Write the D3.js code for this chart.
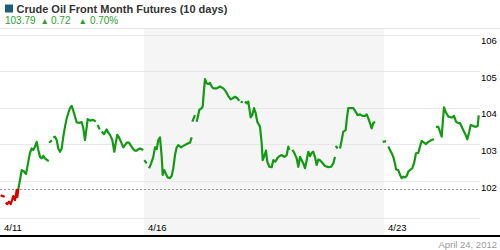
<!DOCTYPE html>
<html>
<head>
<meta charset="utf-8">
<script src="https://cdn.jsdelivr.net/npm/d3@7"></script>
<style>
  body { margin: 0; background: #fff; }
  text { font-family: "Liberation Sans", Arial, sans-serif; }
</style>
</head>
<body>
<div id="chart"></div>
<script>
// header values
var title = "Crude Oil Front Month Futures (10 days)";
var lastPrice = "103.79", change = "0.72", changePct = "0.70%";
var asOf = "April 24, 2012";

// price axis
var yTicks = [101, 102, 103, 104, 105, 106];
var yLabels = [102, 103, 104, 105, 106];
var refPrice = 101.78;

// time axis, hours over 10 trading days (24 h per day)
var dayLabels = ["4/11", "4/16", "4/23"];
var dayHours = [0, 72, 192];
var shadeWeek = [72, 192];

// intraday prices [hour, price], null = session break
var prices = [
  [0.35,101.61],[2.35,101.57], null,
  [2.85,101.41],[3.65,101.37],[4.5,101.44],[5.35,101.37],[6.15,101.50],[6.65,101.59],[7.5,101.48],[8.35,101.76],[8.65,101.56],[9.15,101.78],[10,102.03],[10.85,102.30],[12,102.26],[13,102.19],[14.15,102.53],[15,102.77],[15.85,102.89],[16.65,102.85],[17.5,102.94],[18.35,103.07],[19.15,102.85],[20,102.66],[20.85,102.62],[21.65,102.69],[22.5,102.62],[23.65,102.57],[24.4,102.55], null,
  [24.5,103.05],[26,103.11], null,
  [26.65,103.19],[27.5,103.21],[28.35,103.12],[29.15,102.89],[30,102.80],[30.85,102.89],[31.65,103.21],[32.5,103.48],[33.35,103.71],[34.15,103.85],[35,103.99],[35.85,104.05],[36.65,103.92],[37.5,103.76],[38.35,103.60],[40,103.59],[40.85,103.61],[41.65,103.44],[42.5,103.12],[43.35,103.48],[43.85,103.69],[45,103.65],[46.65,103.67],[47.85,103.62], null,
  [48.85,103.53],[49.85,103.41], null,
  [50.85,103.35],[52,103.28],[53.35,103.41],[54.15,103.32],[55,103.26],[56.15,103.12],[57.15,102.80],[57.85,103.03],[58.65,103.26],[59.5,103.19],[60.5,103.07],[61.65,102.92],[62.5,102.98],[63.35,103.05],[64.5,103.05],[65.5,102.96],[66.65,102.87],[67.5,102.83],[68.35,102.83],[69.15,102.87],[70,102.89],[70.85,102.87],[71.65,102.85], null,
  [72.15,102.57],[73.35,102.48], null,
  [74.5,102.35],[75.5,102.47],[76.65,102.66],[77.5,102.92],[78.35,102.87],[79.15,103.12],[80,103.19],[80.85,102.66],[81.35,102.17],[82.15,102.30],[82.85,102.21],[83.85,102.10],[85,102.08],[85.85,102.14],[86.65,102.35],[87.5,102.71],[88.35,102.92],[89.15,102.98],[90.5,102.92],[91.65,102.96],[93.35,103.01],[95,103.05],[95.85,103.19], null,
  [96.15,103.62],[97.5,103.80], null,
  [98.35,103.62],[99.65,103.94],[100.85,103.99],[101.35,104.03],[102,104.49],[102.5,104.78],[103.35,104.67],[104.15,104.65],[105,104.68],[105.85,104.58],[106.65,104.53],[108.35,104.53],[110,104.58],[111.65,104.53],[113,104.44],[114.15,104.32],[115.35,104.23],[116.35,104.26],[117.5,104.30],[118.65,104.26],[119.65,104.19], null,
  [120.35,104.17],[121.35,104.14], null,
  [122.5,104.17],[123.35,104.12],[124.15,104.17],[125.35,103.74],[126.15,103.80],[127,103.99],[127.85,103.85],[128.65,103.62],[130,103.48],[130.85,103.03],[131.35,102.57],[132,102.66],[133,102.83],[133.65,102.53],[134.65,102.39],[135.85,102.38],[136.65,102.57],[137.65,102.53],[138.65,102.62],[139.65,102.68],[140.85,102.71],[142.15,102.66],[143.35,102.71],[144.15,102.94],[144.65,102.85], null,
  [146.15,102.85],[147.15,102.77],[148.35,102.62],[149.15,102.39],[150,102.66],[150.85,102.57],[151.65,102.48],[152.5,102.35],[153.35,102.57],[154.15,102.80],[155,102.68],[155.85,102.77],[156.65,102.80],[157.5,102.65],[158.35,102.44],[159.15,102.59],[160,102.57],[161.15,102.50],[162.5,102.41],[164.15,102.38],[165.5,102.39],[166.65,102.48],[167.5,102.66], null,
  [167.85,102.96],[168.85,102.89], null,
  [170,102.89],[170.85,103.12],[171.65,103.35],[172.85,103.39],[173.35,103.67],[174.15,103.99],[175.5,103.99],[176.65,103.99],[177.85,103.89],[178.85,103.80],[180,103.82],[181.15,103.78],[182.5,103.78],[183.35,103.82],[184.15,103.71],[185,103.58],[185.85,103.44],[186.65,103.58],[187.5,103.62], null,
  [191.35,103.07],[193,103.09], null,
  [194.15,102.94],[195,102.85],[195.85,102.76],[196.65,102.66],[197.5,102.48],[198,102.32],[199.15,102.30],[200,102.17],[200.85,102.08],[201.65,102.12],[202.5,102.10],[203.35,102.14],[204.15,102.26],[205,102.30],[206.15,102.35],[207,102.48],[208,102.76],[209.15,102.77],[210,102.94],[210.85,103.10],[212,103.05],[213,103.01],[214.15,103.07],[215.85,103.12],[217,103.14], null,
  [218,103.48],[219.15,103.48],[220,103.35],[220.85,103.21],[221.35,103.58],[222,104.01],[223,103.87],[224.15,103.76],[225.35,103.74],[226.35,103.74],[227,103.78],[228,103.62],[229.15,103.58],[230,103.58],[230.85,103.48],[231.65,103.39],[232.5,103.30],[233.65,103.14],[234.65,103.35],[235.35,103.53],[236.65,103.50],[238,103.48],[238.85,103.50],[239.35,103.79]
];

var width = 500, height = 250,
    plotTop = 28.5, plotBottom = 236, plotRight = 480;

var green = "#139a13", red = "#d40000";

var svg = d3.select("#chart")
  .append("svg")
    .attr("width", width)
    .attr("height", height);

var x = d3.scaleLinear().domain([0, 240]).range([0, plotRight]);
var y = d3.scaleLinear().domain([101, 106]).range([217.7, 34.5]);

// header
svg.append("rect")
  .attr("x", 5).attr("y", 4.5).attr("width", 8).attr("height", 8)
  .attr("fill", "#1d5e7a");
svg.append("text")
  .attr("x", 16.5).attr("y", 12.7)
  .attr("font-size", 11).attr("font-weight", "bold").attr("fill", "#333")
  .text(title);

var quote = svg.append("text")
  .attr("x", 5).attr("y", 24.3)
  .attr("font-size", 10).attr("fill", "#2a9f2a");
quote.append("tspan").text(lastPrice);
quote.append("tspan").attr("dx", 5).attr("font-size", 8.5).text("\u25B2");
quote.append("tspan").attr("dx", 2).text(change);
quote.append("tspan").attr("dx", 8).attr("font-size", 8.5).text("\u25B2");
quote.append("tspan").attr("dx", 3).text(changePct);

// plot background
svg.append("rect")
  .attr("x", x(shadeWeek[0])).attr("y", plotTop)
  .attr("width", x(shadeWeek[1]) - x(shadeWeek[0]))
  .attr("height", plotBottom - plotTop)
  .attr("fill", "#f5f5f5");

svg.append("line")
  .attr("x1", 0).attr("x2", width)
  .attr("y1", plotTop).attr("y2", plotTop)
  .attr("stroke", "#e4e4e4");

svg.selectAll(".grid")
  .data(yTicks)
  .enter().append("line")
    .attr("class", "grid")
    .attr("x1", 0).attr("x2", plotRight)
    .attr("y1", function(d) { return Math.round(y(d)) + 0.5; })
    .attr("y2", function(d) { return Math.round(y(d)) + 0.5; })
    .attr("stroke", "#e8e8e8");

svg.selectAll(".ylab")
  .data(yLabels)
  .enter().append("text")
    .attr("class", "ylab")
    .attr("x", plotRight + 1)
    .attr("y", function(d) { return y(d) + 9.5; })
    .attr("font-size", 9.5).attr("fill", "#000")
    .text(function(d) { return d; });

svg.append("line")
  .attr("x1", 0).attr("x2", plotRight)
  .attr("y1", Math.round(y(refPrice)) + 0.5).attr("y2", Math.round(y(refPrice)) + 0.5)
  .attr("stroke", "#999").attr("stroke-dasharray", "2,2");

svg.selectAll(".xlab")
  .data(dayHours)
  .enter().append("text")
    .attr("class", "xlab")
    .attr("x", function(d) { return x(d) + 4; })
    .attr("y", 230.8)
    .attr("font-size", 9.5).attr("fill", "#000")
    .text(function(d, i) { return dayLabels[i]; });

// price line, green above the reference, red below
var defs = svg.append("defs");
defs.append("clipPath").attr("id", "above")
  .append("rect").attr("x", 0).attr("y", 0)
  .attr("width", width).attr("height", y(refPrice));
defs.append("clipPath").attr("id", "below")
  .append("rect").attr("x", 0).attr("y", y(refPrice))
  .attr("width", width).attr("height", height - y(refPrice));

var line = d3.line()
  .defined(function(d) { return d !== null; })
  .x(function(d) { return x(d[0]); })
  .y(function(d) { return y(d[1]); });

[["above", green], ["below", red]].forEach(function(c) {
  svg.append("path")
    .datum(prices)
    .attr("clip-path", "url(#" + c[0] + ")")
    .attr("fill", "none")
    .attr("stroke", c[1])
    .attr("stroke-width", 2.2)
    .attr("stroke-linejoin", "round")
    .attr("d", line);
});

// bottom axis line and date stamp
svg.append("line")
  .attr("x1", 0).attr("x2", width)
  .attr("y1", plotBottom).attr("y2", plotBottom)
  .attr("stroke", "#000").attr("stroke-width", 2);

svg.append("text")
  .attr("x", 497).attr("y", 247.5)
  .attr("text-anchor", "end")
  .attr("font-size", 9.5).attr("fill", "#9a9a9a")
  .text(asOf);
</script>
</body>
</html>
